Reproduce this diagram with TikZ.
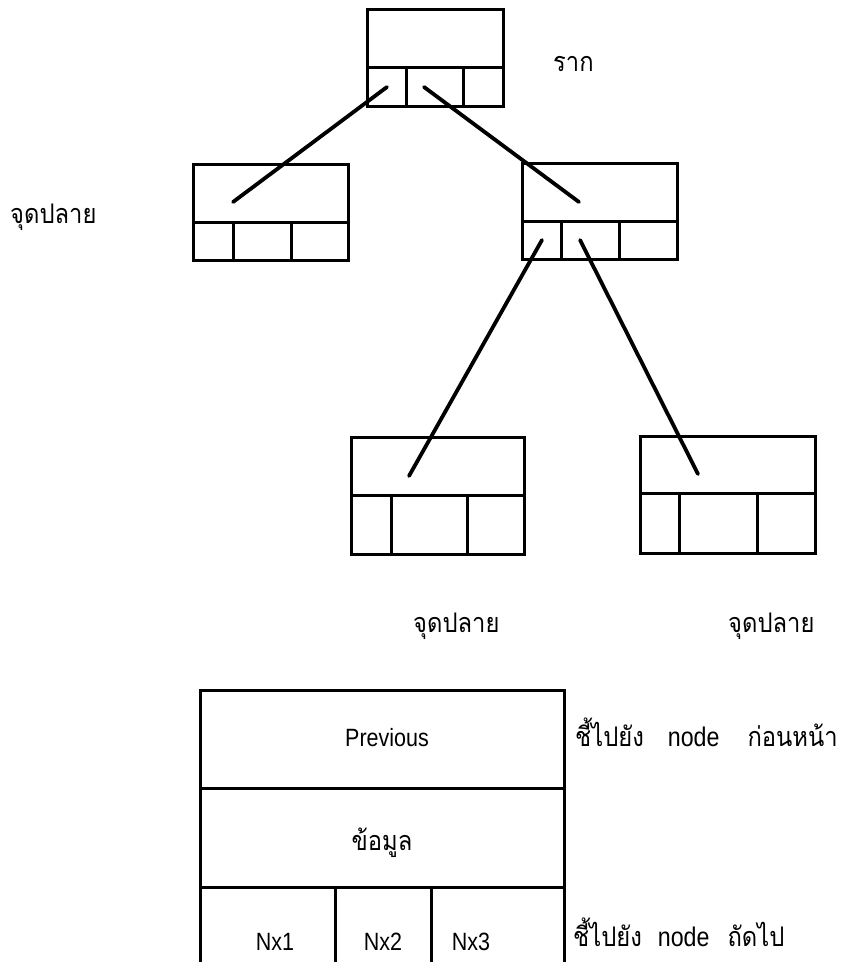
\documentclass[tikz,border=0pt]{standalone}
\usepackage{fontspec}
\newfontfamily\thaifont[Script=Thai,FakeStretch=0.88]{Loma}
\newfontfamily\latfont[FakeStretch=0.86]{Liberation Sans}
\newcommand\treebox[8]{% name, x1, y1, x2, ydiv, y2, xa, xb
  \node[box, anchor=north west, minimum width={(#4-#2)*1pt}, minimum height={(#6-#3)*1pt}] (#1) at (#2,#3) {};
  \draw[boxline] (#2,#5) -- (#4,#5) (#7,#5) -- (#7,#6) (#8,#5) -- (#8,#6);
}
\begin{document}
\begin{tikzpicture}[x=1pt,y=-1pt,
  box/.style={draw, line width=3pt, inner sep=0pt, outer sep=0pt, rectangle},
  boxline/.style={line width=3pt},
  link/.style={line width=3.8pt, line cap=round},
  thai/.style={font=\thaifont\fontsize{27}{32}\selectfont, inner sep=0pt},
  lat/.style={font=\latfont\fontsize{25}{30}\selectfont, inner sep=0pt}]
\useasboundingbox (0,0) rectangle (842,962);
\clip (0,0) rectangle (842,962);
% tree boxes
\treebox{root}{367}{9}{503}{67}{106}{406}{463}
\treebox{left}{193}{164}{348}{222}{260}{233}{291}
\treebox{right}{522}{163}{677}{221}{259}{561}{619}
\treebox{bl}{351}{437}{524}{495}{554}{391}{467}
\treebox{br}{640}{436}{815}{493}{553}{679}{757}
% connector ends
\coordinate (root-p1) at (387,87);
\coordinate (root-p2) at (424,87);
\coordinate (left-in) at (233,202);
\coordinate (right-in) at (579,202);
\coordinate (right-p1) at (542,240);
\coordinate (right-p2) at (580,240);
\coordinate (bl-in) at (409,476);
\coordinate (br-in) at (698,474);
\draw[link] (root-p1) -- (left-in);
\draw[link] (root-p2) -- (right-in);
\draw[link] (right-p1) -- (bl-in);
\draw[link] (right-p2) -- (br-in);
% tree labels
\node[thai, anchor=base west] (lroot) at (553,71) {ราก};
\node[thai, anchor=base west] (lleft) at (10,223) {จุดปลาย};
\node[thai, anchor=base west] (lbl) at (413,632) {จุดปลาย};
\node[thai, anchor=base west] (lbr) at (728,632) {จุดปลาย};
% bottom record
\node[box, anchor=north west, minimum width=364pt, minimum height=320pt] (rec) at (200,690) {};
\draw[boxline] (200,788) -- (564,788) (200,887) -- (564,887) (335,887) -- (335,1010) (431,887) -- (431,1010);
\node[lat, anchor=base] (tprev) at (387,746) {Previous};
\node[thai, anchor=base] (tdata) at (382,850) {ข้อมูล};
\node[lat, anchor=base] (tn1) at (275,950) {Nx1};
\node[lat, anchor=base] (tn2) at (383,950) {Nx2};
\node[lat, anchor=base] (tn3) at (471,950) {Nx3};
\node[thai, anchor=base west] (tprevd) at (575,746) {ชี้ไปยัง\hspace{24pt}{\latfont node}\hspace{28pt}ก่อนหน้า};
\node[thai, anchor=base west] (tnextd) at (573,946) {ชี้ไปยัง\hspace{16pt}{\latfont node}\hspace{18pt}ถัดไป};
\end{tikzpicture}
\end{document}
